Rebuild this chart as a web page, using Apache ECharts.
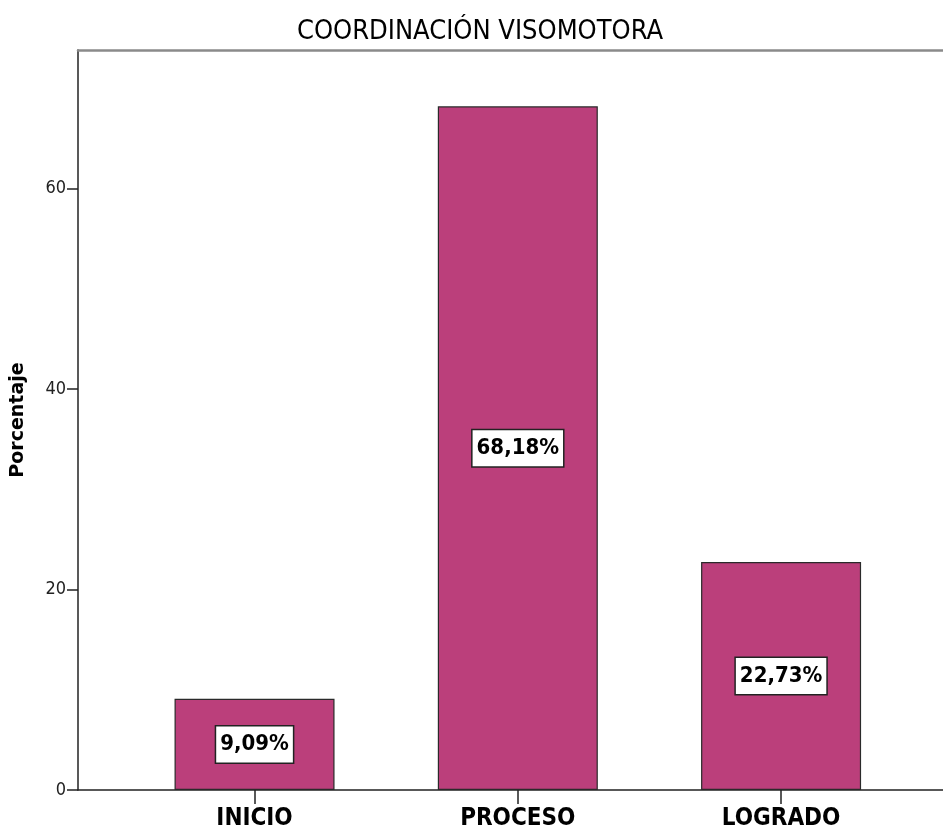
<!DOCTYPE html>
<html>
<head>
<meta charset="utf-8">
<script src="https://cdn.jsdelivr.net/npm/echarts@6/dist/echarts.min.js"></script>
<style>
html,body{margin:0;padding:0;background:#fff;}
#chart{width:943px;height:834px;}
</style>
</head>
<body>
<div id="chart"></div>
<script>
const titleText = 'COORDINACIÓN VISOMOTORA';
const categories = ['INICIO', 'PROCESO', 'LOGRADO'];
const percentages = [9.09, 68.18, 22.73];
const percentLabels = ['9,09%', '68,18%', '22,73%'];
const yTicks = [0, 20, 40, 60];
const yAxisName = 'Porcentaje';

const narrow = "'Liberation Sans Narrow', 'Arial Narrow', 'DejaVu Sans Condensed', sans-serif";
const chart = echarts.init(document.getElementById('chart'), null, {renderer: 'canvas'});
const xRange = {min: -0.6705, max: 2.615};
chart.setOption({
  animation: false,
  backgroundColor: '#ffffff',
  title: {
    text: titleText,
    left: 475, top: 13, textAlign: 'center',
    textStyle: {fontFamily: narrow, fontWeight: 'normal', fontSize: 27, color: '#000'}
  },
  grid: {left: 78, right: 0, top: 50, bottom: 44},
  xAxis: [{
    type: 'value', min: xRange.min, max: xRange.max,
    splitLine: {show: false},
    axisLine: {show: true, onZero: false, lineStyle: {color: '#222', width: 1.5}},
    axisTick: {show: true, length: 14, customValues: [0, 1, 2], lineStyle: {color: '#222', width: 1.5}},
    axisLabel: {
      customValues: [0, 1, 2],
      formatter: v => categories[Math.round(v)] || '',
      fontFamily: narrow, fontWeight: 'bold', fontSize: 24, color: '#000', margin: 17
    }
  }, {
    type: 'value', position: 'top', min: xRange.min, max: xRange.max,
    splitLine: {show: false},
    axisLine: {show: true, onZero: false, lineStyle: {color: '#8a8a8a', width: 2.5}},
    axisTick: {show: false}, axisLabel: {show: false}
  }],
  yAxis: {
    type: 'value', min: 0, max: 73.8, position: 'left',
    name: yAxisName, nameLocation: 'middle', nameGap: 50, nameRotate: 90,
    nameTextStyle: {fontFamily: "'DejaVu Sans', sans-serif", fontWeight: 'bold', fontSize: 19, color: '#000'},
    splitLine: {show: false},
    axisLine: {show: true, onZero: false, lineStyle: {color: '#222', width: 1.5}},
    axisTick: {show: true, length: 11, customValues: yTicks, lineStyle: {color: '#222', width: 1.5}},
    axisLabel: {customValues: yTicks, fontFamily: narrow, fontSize: 18, color: '#222', margin: 12}
  },
  series: [{
    type: 'bar',
    barWidth: 160,
    data: percentages.map((v, i) => [i, v]),
    itemStyle: {color: '#bb3f7b', borderColor: '#2a2a2a', borderWidth: 1.2},
    label: {
      show: true, position: 'inside',
      formatter: p => percentLabels[p.dataIndex],
      fontFamily: narrow, fontWeight: 'bold', fontSize: 22, color: '#000',
      backgroundColor: '#fff', borderColor: '#222', borderWidth: 1.5,
      padding: [8, 4, 6, 4]
    }
  }]
});
</script>
</body>
</html>
